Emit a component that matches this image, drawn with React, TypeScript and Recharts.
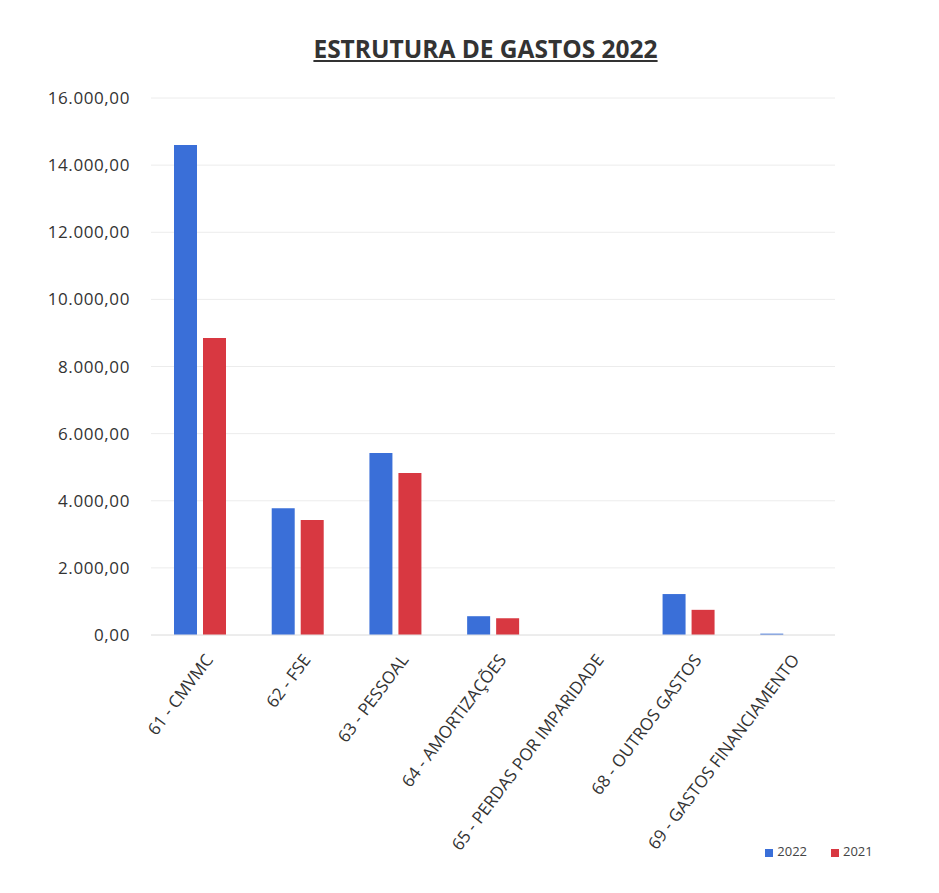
import { BarChart, Bar, XAxis, YAxis, CartesianGrid, Legend } from "recharts";

const categories = [
  "61 - CMVMC",
  "62 - FSE",
  "63 - PESSOAL",
  "64 - AMORTIZAÇÕES",
  "65 - PERDAS POR IMPARIDADE",
  "68 - OUTROS GASTOS",
  "69 - GASTOS FINANCIAMENTO",
];
const values2022 = [14600, 3780, 5420, 560, 0, 1220, 40];
const values2021 = [8850, 3430, 4830, 500, 0, 750, 0];
const yTicks = [0, 2000, 4000, 6000, 8000, 10000, 12000, 14000, 16000];

const data = categories.map((name, i) => ({
  name,
  a2022: values2022[i],
  b2021: values2021[i],
}));

const fmt = (v: number) => {
  const int = Math.floor(v).toString().replace(/\B(?=(\d{3})+(?!\d))/g, ".");
  return int + ",00";
};

const FONT = "'Open Sans', sans-serif";

function XTick(props: any) {
  const { x, y, payload } = props;
  return (
    <g transform={`translate(${x + 10},${y + 14})`}>
      <text
        textAnchor="end"
        transform="rotate(-53)"
        fontSize={17}
        fontFamily={FONT}
        fill="#333"
        dy={5}
      >
        {payload.value}
      </text>
    </g>
  );
}

export default function App() {
  return (
    <div style={{ position: "absolute", left: 0, top: 0, width: 939, height: 893, background: "white" }}>
      <div
        style={{
          position: "absolute",
          left: 0,
          top: 32,
          width: 971,
          textAlign: "center",
          fontFamily: FONT,
          fontWeight: 700,
          fontSize: 24.5,
          color: "#333",
          textDecoration: "underline",
        }}
      >
        ESTRUTURA DE GASTOS 2022
      </div>
      <BarChart
        width={939}
        height={893}
        data={data}
        margin={{ top: 98, right: 104, bottom: 0, left: 0 }}
        barSize={23}
        barGap={6}
      >
        <CartesianGrid vertical={false} stroke="#ececec" />
        <XAxis
          dataKey="name"
          axisLine={{ stroke: "#e4e4e4" }}
          tickLine={false}
          interval={0}
          tick={<XTick />}
          height={258}
        />
        <YAxis
          width={151}
          domain={[0, 16000]}
          ticks={yTicks}
          tickFormatter={fmt}
          axisLine={false}
          tickLine={false}
          tickSize={0}
          tickMargin={21}
          tick={{ fontSize: 17, fontFamily: FONT, fill: "#333", letterSpacing: 0.6 }}
        />
        <Legend
          layout="horizontal"
          verticalAlign="middle"
          iconType="square"
          iconSize={8}
          itemSorter="dataKey"
          wrapperStyle={{ left: 741, top: 842, width: 180, fontSize: 13, fontFamily: FONT }}
          formatter={(v: string) => <span style={{ color: "#444", marginRight: 14 }}>{v}</span>}
        />
        <Bar dataKey="a2022" name="2022" fill="#3a6fd8" isAnimationActive={false} />
        <Bar dataKey="b2021" name="2021" fill="#d83841" isAnimationActive={false} />
      </BarChart>
    </div>
  );
}
